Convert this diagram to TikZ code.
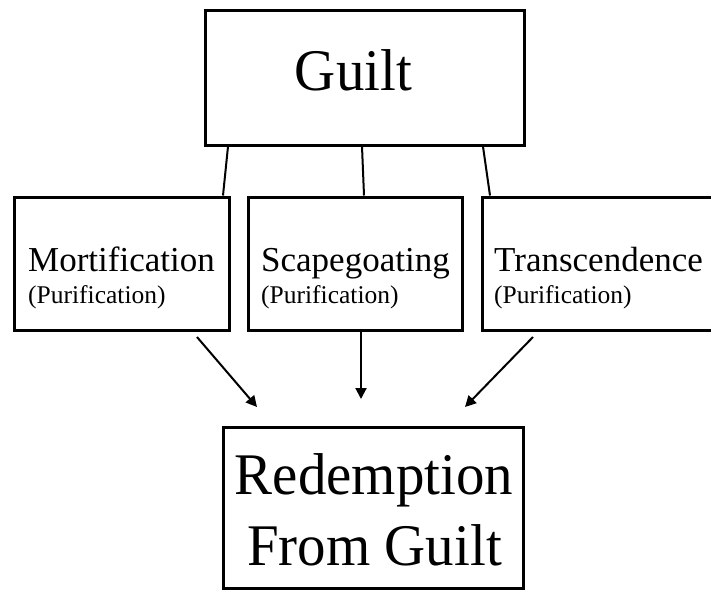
\documentclass[tikz,border=0pt]{standalone}
\usepackage{fontspec}
\setmainfont{Liberation Serif}
\usetikzlibrary{arrows.meta,shadows}
\begin{document}
\begin{tikzpicture}[x=1pt,y=-1pt,
  box/.style={draw=black, line width=3pt, fill=white, rectangle, inner sep=0pt,
    drop shadow={shadow xshift=1pt, shadow yshift=-1.5pt, opacity=0.3}},
  txt/.style={inner sep=0pt},
  big/.style={txt, font=\fontsize{59}{70}\selectfont\addfontfeature{FakeStretch=0.965}},
  mid/.style={txt, anchor=base west, font=\fontsize{35}{40}\selectfont},
  small/.style={txt, anchor=base west, font=\fontsize{25.5}{28}\selectfont},
  link/.style={draw=black, line width=2pt},
  arr/.style={link, -{Triangle[length=11pt,width=11pt]}}
]
\useasboundingbox (0,0) rectangle (711,590);

% boxes
\node[box, minimum width=319pt, minimum height=135pt] (guilt) at (364.5,77.5) {};
\node[box, minimum width=215pt, minimum height=133pt] (mort) at (121.5,263.5) {};
\node[box, minimum width=214pt, minimum height=133pt] (scape) at (355,263.5) {};
\node[box, minimum width=243pt, minimum height=133pt] (trans) at (603.5,263.5) {};
\node[box, minimum width=300pt, minimum height=161pt] (red) at (373,507.5) {};

% texts
\node[big, anchor=base] (guiltT) at (353.5,90) {Guilt};
\node[mid] (mortT) at (28,271) {Mortification};
\node[small] (mortP) at (28,303) {(Purification)};
\node[mid] (scapeT) at (261,271) {Scapegoating};
\node[small] (scapeP) at (261,303) {(Purification)};
\node[mid] (transT) at (494,271) {Transcendence};
\node[small] (transP) at (494,303) {(Purification)};
\node[big, anchor=base] (redT1) at (374,494) {Redemption};
\node[big, anchor=base] (redT2) at (374.5,565) {From Guilt};

% connector end points
\coordinate (g1) at (228,146.5);
\coordinate (g2) at (362,146.5);
\coordinate (g3) at (483,146.5);
\coordinate (m1) at (223,195.5);
\coordinate (s1) at (364,195.5);
\coordinate (t1) at (490,195.5);

\coordinate (mb) at (197,337);
\coordinate (sb) at (361,331.5);
\coordinate (tb) at (533,337);
\coordinate (e1) at (257,407);
\coordinate (e2) at (361,399);
\coordinate (e3) at (465,407);

% lines from Guilt
\draw[link] (g1) -- (m1);
\draw[link] (g2) -- (s1);
\draw[link] (g3) -- (t1);

% arrows toward Redemption
\draw[arr] (mb) -- (e1);
\draw[arr] (sb) -- (e2);
\draw[arr] (tb) -- (e3);
\end{tikzpicture}
\end{document}
